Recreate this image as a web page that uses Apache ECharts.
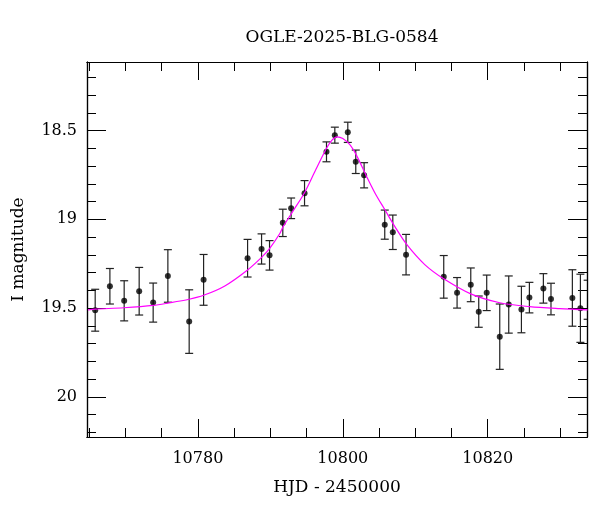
<!DOCTYPE html>
<html>
<head>
<meta charset="utf-8">
<script src="https://cdn.jsdelivr.net/npm/echarts@6/dist/echarts.min.js"></script>
<style>
  html, body { margin: 0; padding: 0; background: #fff; }
  #chart { width: 600px; height: 512px; }
</style>
</head>
<body>
<div id="chart"></div>
<script>
// Photometry: HJD - 2450000, I magnitude, error
const hjd = [10765.83, 10767.86, 10769.83, 10771.90, 10773.83, 10775.86, 10778.80, 10780.79,
    10786.86, 10788.79, 10789.89, 10791.72, 10792.87, 10794.72, 10797.75, 10798.90, 10800.69,
    10801.79, 10802.94, 10805.79, 10806.90, 10808.73, 10813.93, 10815.77, 10817.66, 10818.76,
    10819.86, 10821.66, 10822.90, 10824.65, 10825.75, 10827.68, 10828.73, 10831.68, 10832.79, 10833.79];
const mag = [19.512, 19.377, 19.459, 19.405, 19.469, 19.319, 19.576, 19.341,
    19.219, 19.167, 19.203, 19.020, 18.938, 18.853, 18.620, 18.526, 18.510,
    18.676, 18.752, 19.030, 19.073, 19.199, 19.324, 19.414, 19.369, 19.520,
    19.414, 19.661, 19.480, 19.508, 19.441, 19.389, 19.449, 19.443, 19.501, 19.453];
const magErr = [0.118, 0.100, 0.113, 0.134, 0.110, 0.148, 0.179, 0.143,
    0.106, 0.085, 0.083, 0.077, 0.058, 0.071, 0.056, 0.045, 0.057,
    0.066, 0.071, 0.082, 0.097, 0.114, 0.120, 0.086, 0.095, 0.088,
    0.100, 0.184, 0.161, 0.131, 0.086, 0.083, 0.089, 0.159, 0.192, 0.110];

// Model curve
const modelHjd = [10764.83, 10765.83, 10769.79, 10773.83, 10775.86, 10778.80, 10780.79, 10783.72,
    10786.86, 10788.79, 10789.89, 10791.31, 10791.72, 10793.10, 10794.72, 10796.28, 10797.75,
    10798.48, 10799.21, 10800.00, 10800.97, 10801.89, 10803.27, 10804.55, 10805.79, 10807.17,
    10808.79, 10811.31, 10813.93, 10817.66, 10821.66, 10825.79, 10829.93, 10833.79];
const modelMag = [19.510, 19.506, 19.498, 19.485, 19.472, 19.450, 19.428, 19.375,
    19.285, 19.214, 19.165, 19.080, 19.045, 18.955, 18.850, 18.720, 18.600,
    18.555, 18.536, 18.545, 18.580, 18.640, 18.757, 18.860, 18.945, 19.040,
    19.140, 19.255, 19.335, 19.420, 19.470, 19.492, 19.503, 19.510];

// Ticks
const xMajor = [10780, 10800, 10820];
const xMinor = [10765, 10770, 10775, 10785, 10790, 10795, 10805, 10810, 10815, 10825, 10830];
const yMajor = [18.5, 19, 19.5, 20];
const yMinor = [18.2, 18.3, 18.4, 18.6, 18.7, 18.8, 18.9, 19.1, 19.2, 19.3, 19.4,
    19.6, 19.7, 19.8, 19.9, 20.1, 20.2];

const xMin = 10764.7, xMax = 10833.7;
const yMin = 18.114, yMax = 20.226;
const font = 'DejaVu Serif';
const axisLine = { show: true, lineStyle: { color: '#000', width: 1.2 } };

function xAxisDef(pos, ticks, len, labels, extra) {
    return Object.assign({
        type: 'value', position: pos, min: xMin, max: xMax,
        axisLine: axisLine, splitLine: { show: false },
        axisTick: { show: true, inside: true, length: len, customValues: ticks,
            lineStyle: { color: '#000', width: 1 } },
        axisLabel: labels ? { show: true, customValues: ticks, color: '#000',
            fontFamily: font, fontSize: 16, margin: 14, formatter: v => String(v) } : { show: false }
    }, extra || {});
}
function yAxisDef(pos, ticks, len, labels, extra) {
    return Object.assign({
        type: 'value', position: pos, min: yMin, max: yMax, inverse: true,
        axisLine: axisLine, splitLine: { show: false },
        axisTick: { show: true, inside: true, length: len, customValues: ticks,
            lineStyle: { color: '#000', width: 1 } },
        axisLabel: labels ? { show: true, customValues: ticks, color: '#000',
            fontFamily: font, fontSize: 16, margin: 10, formatter: v => String(v) } : { show: false }
    }, extra || {});
}

const chart = echarts.init(document.getElementById('chart'));

const errData = hjd.map((x, i) => [x, mag[i] - magErr[i], mag[i] + magErr[i]]);

chart.setOption({
    animation: false,
    title: {
        text: 'OGLE-2025-BLG-0584', left: 337, top: 24, textAlign: 'center',
        textStyle: { fontFamily: font, fontSize: 17, fontWeight: 'normal', color: '#000' }
    },
    grid: { left: 87, right: 13, top: 62, bottom: 75 },
    xAxis: [
        xAxisDef('bottom', xMajor, 18, true, {
            name: 'HJD - 2450000', nameLocation: 'middle', nameGap: 42,
            nameTextStyle: { fontFamily: font, fontSize: 17, color: '#000' }
        }),
        xAxisDef('bottom', xMinor, 9, false),
        xAxisDef('top', xMajor, 18, false),
        xAxisDef('top', xMinor, 9, false)
    ],
    yAxis: [
        yAxisDef('left', yMajor, 19, true, {
            name: 'I magnitude', nameLocation: 'middle', nameGap: 60,
            nameTextStyle: { fontFamily: font, fontSize: 17, color: '#000' }
        }),
        yAxisDef('left', yMinor, 9, false),
        yAxisDef('right', yMajor, 19, false),
        yAxisDef('right', yMinor, 9, false)
    ],
    series: [
        {
            type: 'line', name: 'model',
            data: modelHjd.map((x, i) => [x, modelMag[i]]),
            smooth: 0.3, showSymbol: false, clip: true,
            lineStyle: { color: '#ff00ff', width: 1.2 }
        },
        {
            type: 'custom', name: 'errors',
            clip: true,
            renderItem: function (params, api) {
                const x = api.value(0);
                const top = api.coord([x, api.value(1)]);
                const bot = api.coord([x, api.value(2)]);
                const w = 4;
                const style = { stroke: '#222', lineWidth: 1.2 };
                return {
                    type: 'group',
                    children: [
                        { type: 'line', shape: { x1: top[0], y1: top[1], x2: bot[0], y2: bot[1] }, style: style },
                        { type: 'line', shape: { x1: top[0] - w, y1: top[1], x2: top[0] + w, y2: top[1] }, style: style },
                        { type: 'line', shape: { x1: bot[0] - w, y1: bot[1], x2: bot[0] + w, y2: bot[1] }, style: style }
                    ]
                };
            },
            data: errData
        },
        {
            type: 'scatter', name: 'data',
            data: hjd.map((x, i) => [x, mag[i]]),
            symbolSize: 6, clip: true,
            itemStyle: { color: '#000' }
        }
    ]
});
</script>
</body>
</html>
